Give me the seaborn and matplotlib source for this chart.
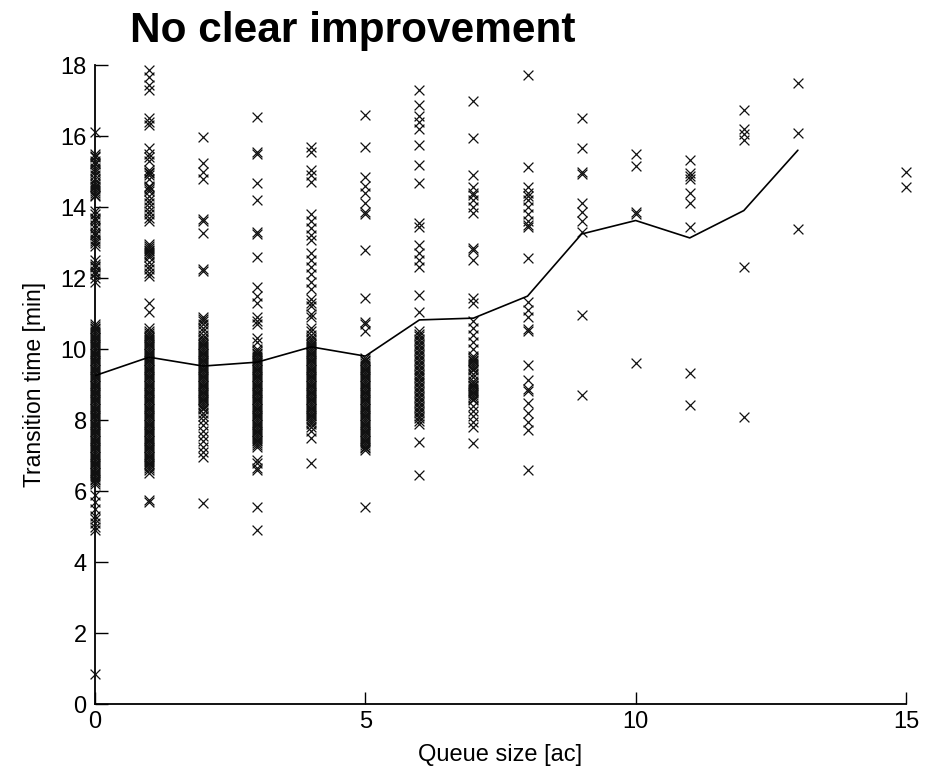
import matplotlib
matplotlib.use('Agg')
import matplotlib.pyplot as plt
import pandas as pd
import seaborn as sns

# transition times per queue size
times_q0 = [16.1, 15.5, 15.45, 15.4, 15.3, 15.25, 15.2, 15.1, 15.05, 15.0, 14.9, 14.8, 14.7, 14.65, 14.6,
            14.55, 14.5, 14.45, 14.4, 14.35, 14.3, 13.9, 13.8, 13.7, 13.65, 13.6, 13.5, 13.4, 13.3, 13.25,
            13.2, 13.1, 13.05, 13.0, 12.9, 12.5, 12.4, 12.35, 12.3, 12.2, 12.15, 12.1, 12.0, 11.9,
            10.7, 10.65, 10.6, 10.55, 10.5, 10.45, 10.4, 10.35, 10.3, 10.25, 10.2, 10.15, 10.1, 10.05, 10.0,
            9.95, 9.9, 9.85, 9.8, 9.75, 9.7, 9.65, 9.6, 9.55, 9.5, 9.45, 9.4, 9.35, 9.3, 9.25, 9.2, 9.15,
            9.1, 9.05, 9.0, 8.95, 8.9, 8.85, 8.8, 8.75, 8.7, 8.65, 8.6, 8.55, 8.5, 8.45, 8.4, 8.35, 8.3,
            8.25, 8.2, 8.15, 8.1, 8.05, 8.0, 7.95, 7.9, 7.85, 7.8, 7.75, 7.7, 7.65, 7.6, 7.55, 7.5, 7.45,
            7.4, 7.35, 7.3, 7.25, 7.2, 7.15, 7.1, 7.05, 7.0, 6.95, 6.9, 6.85, 6.8, 6.75, 6.7, 6.65, 6.6,
            6.55, 6.5, 6.45, 6.4, 6.35, 6.3, 6.25, 6.2,
            5.9, 5.7, 5.5, 5.3, 5.2, 5.1, 5.0, 4.9, 0.85]
times_q1 = [17.85, 17.65, 17.45, 17.3, 16.5, 16.4, 16.3, 15.65, 15.5, 15.4, 15.3, 15.05, 15.0, 14.95, 14.9,
            14.8, 14.6, 14.55, 14.5, 14.45, 14.3, 14.2, 14.1, 14.0, 13.9, 13.8, 13.7, 13.6, 12.95, 12.9,
            12.85, 12.8, 12.75, 12.7, 12.65, 12.6, 12.45, 12.35, 12.25, 12.15, 12.05, 11.3, 11.05,
            10.6, 10.5, 10.45, 10.4, 10.35, 10.3, 10.25, 10.2, 10.15, 10.1, 10.05, 10.0, 9.95, 9.9, 9.85,
            9.8, 9.75, 9.7, 9.65, 9.6, 9.55, 9.5, 9.45, 9.4, 9.35, 9.3, 9.25, 9.2, 9.15, 9.1, 9.05, 9.0,
            8.95, 8.9, 8.85, 8.8, 8.75, 8.7, 8.65, 8.6, 8.55, 8.5, 8.45, 8.4, 8.35, 8.3, 8.25, 8.2, 8.15,
            8.1, 8.05, 8.0, 7.95, 7.9, 7.85, 7.8, 7.75, 7.7, 7.65, 7.6, 7.55, 7.5, 7.45, 7.4, 7.35, 7.3,
            7.25, 7.2, 7.15, 7.1, 7.05, 7.0, 6.95, 6.9, 6.85, 6.8, 6.75, 6.7, 6.65, 6.6, 6.5, 5.75, 5.7]
times_q2 = [15.97, 15.24, 15.0, 14.8, 13.65, 13.6, 13.27, 12.25, 12.2, 10.9, 10.85, 10.8, 10.7, 10.6, 10.5,
            10.4, 10.3, 10.25, 10.2, 10.15, 10.1, 10.05, 10.0, 9.95, 9.9, 9.85, 9.8, 9.75, 9.7, 9.65, 9.6,
            9.55, 9.5, 9.45, 9.4, 9.35, 9.3, 9.25, 9.2, 9.15, 9.1, 9.05, 9.0, 8.95, 8.9, 8.85, 8.8, 8.75,
            8.7, 8.65, 8.6, 8.55, 8.5, 8.45, 8.4, 8.35, 8.3, 8.2, 8.1, 8.0, 7.85, 7.7, 7.55, 7.4, 7.25,
            7.1, 6.95, 5.66]
times_q3 = [16.54, 15.55, 15.5, 14.68, 14.2, 13.3, 13.25, 12.6, 11.75, 11.5, 11.3, 10.9, 10.8, 10.7, 10.3,
            10.2, 10.0, 9.95, 9.9, 9.85, 9.8, 9.75, 9.7, 9.65, 9.6, 9.55, 9.5, 9.45, 9.4, 9.35, 9.3, 9.25,
            9.2, 9.15, 9.1, 9.05, 9.0, 8.95, 8.9, 8.85, 8.8, 8.75, 8.7, 8.65, 8.6, 8.55, 8.5, 8.45, 8.4,
            8.35, 8.3, 8.25, 8.2, 8.15, 8.1, 8.05, 8.0, 7.95, 7.9, 7.85, 7.8, 7.75, 7.7, 7.65, 7.6, 7.55,
            7.5, 7.45, 7.4, 7.35, 7.3, 7.25, 6.87, 6.8, 6.65, 6.6, 5.55, 4.9]
times_q4 = [15.7, 15.55, 15.04, 14.9, 14.7, 13.8, 13.6, 13.4, 13.2, 13.07, 12.7, 12.5, 12.3, 12.1, 11.9, 11.7,
            11.4, 11.3, 11.2, 11.0, 10.9, 10.6, 10.5, 10.4, 10.3, 10.25, 10.2, 10.15, 10.1, 10.05, 10.0,
            9.95, 9.9, 9.85, 9.8, 9.75, 9.7, 9.65, 9.6, 9.55, 9.5, 9.45, 9.4, 9.35, 9.3, 9.25, 9.2, 9.15,
            9.1, 9.05, 9.0, 8.95, 8.9, 8.85, 8.8, 8.75, 8.7, 8.65, 8.6, 8.55, 8.5, 8.45, 8.4, 8.35, 8.3,
            8.25, 8.2, 8.15, 8.1, 8.05, 8.0, 7.95, 7.9, 7.8, 7.7, 7.5, 6.8]
times_q5 = [16.6, 15.7, 14.84, 14.6, 14.4, 14.1, 13.85, 13.8, 12.8, 11.43, 10.75, 10.7, 10.5, 9.75, 9.7,
            9.65, 9.6, 9.55, 9.5, 9.45, 9.4, 9.35, 9.3, 9.25, 9.2, 9.15, 9.1, 9.05, 9.0, 8.95, 8.9, 8.85,
            8.8, 8.75, 8.7, 8.65, 8.6, 8.55, 8.5, 8.45, 8.4, 8.35, 8.3, 8.25, 8.2, 8.15, 8.1, 8.05, 8.0,
            7.95, 7.9, 7.85, 7.8, 7.75, 7.7, 7.65, 7.6, 7.55, 7.5, 7.45, 7.4, 7.35, 7.3, 7.25, 7.2, 7.15, 5.55]
times_q6 = [17.3, 16.87, 16.55, 16.4, 16.2, 15.75, 15.18, 14.68, 13.55, 13.45, 12.93, 12.7, 12.5, 12.3,
            11.52, 11.04, 10.5, 10.43, 10.36, 10.29, 10.22, 10.15, 10.08, 10.01, 9.94, 9.87, 9.8, 9.73,
            9.66, 9.59, 9.52, 9.45, 9.38, 9.31, 9.24, 9.17, 9.1, 9.03, 8.96, 8.89, 8.82, 8.75, 8.68, 8.61,
            8.54, 8.47, 8.4, 8.33, 8.26, 8.19, 8.12, 8.05, 7.98, 7.9, 7.38, 6.45]
times_q7 = [17.0, 15.94, 14.9, 14.56, 14.4, 14.35, 14.2, 14.0, 13.83, 12.85, 12.8, 12.5, 11.43, 11.3, 10.8,
            10.6, 10.4, 10.2, 10.0, 9.8, 9.75, 9.7, 9.65, 9.6, 9.55, 9.5, 9.45, 9.4, 9.3, 9.2, 9.1, 9.05,
            9.0, 8.95, 8.9, 8.85, 8.8, 8.75, 8.7, 8.65, 8.6, 8.55, 8.4, 8.25, 8.1, 7.95, 7.8, 7.35]
times_q8 = [17.72, 15.13, 14.56, 14.4, 14.3, 14.2, 14.0, 13.8, 13.6, 13.5, 13.44, 12.56, 11.33, 11.1, 10.9,
            10.55, 10.5, 9.55, 9.13, 8.87, 8.83, 8.48, 8.2, 7.95, 7.72, 6.6]
times_q9 = [16.5, 15.66, 14.98, 14.94, 14.1, 13.85, 13.6, 13.3, 10.96, 8.7]
times_q10 = [15.5, 15.15, 13.85, 13.8, 9.6]
times_q11 = [15.32, 14.96, 14.88, 14.8, 14.4, 14.1, 13.44, 9.32, 8.42]
times_q12 = [16.73, 16.2, 16.05, 15.9, 12.3, 8.08]
times_q13 = [17.49, 16.08, 13.38]
times_q15 = [15.0, 14.56]

queue_sizes = [0, 1, 2, 3, 4, 5, 6, 7, 8, 9, 10, 11, 12, 13, 15]
all_times = [times_q0, times_q1, times_q2, times_q3, times_q4, times_q5, times_q6, times_q7,
             times_q8, times_q9, times_q10, times_q11, times_q12, times_q13, times_q15]

# mean transition time line
mean_queue = [0, 1, 2, 3, 4, 5, 6, 7, 8, 9, 10, 11, 12, 13]
mean_time = [9.25, 9.77, 9.52, 9.63, 10.06, 9.8, 10.82, 10.87, 11.49, 13.24, 13.62, 13.13, 13.9, 15.6]

rows = []
for q, ts in zip(queue_sizes, all_times):
    for t in ts:
        rows.append((q, t))
df = pd.DataFrame(rows, columns=['queue', 'time'])
df_mean = pd.DataFrame({'queue': mean_queue, 'time': mean_time})

sns.set_style('ticks')
plt.rcParams['font.family'] = ['Liberation Sans', 'DejaVu Sans']
plt.rcParams['text.color'] = 'black'
plt.rcParams['axes.labelcolor'] = 'black'

fig = plt.figure(figsize=(9.35, 7.74), dpi=100)
ax = fig.add_axes([0.1016, 0.0904, 0.8674, 0.8256])

sns.scatterplot(data=df, x='queue', y='time', ax=ax, marker='x', color='#111111',
                s=50, linewidth=0.9, legend=False, clip_on=False, zorder=3)
sns.lineplot(data=df_mean, x='queue', y='time', ax=ax, color='black', linewidth=1.2, zorder=4)

ax.set_xlim(0, 15)
ax.set_ylim(0, 18)
ax.set_xticks([0, 5, 10, 15])
ax.set_yticks([0, 2, 4, 6, 8, 10, 12, 14, 16, 18])
ax.tick_params(direction='in', length=9, width=1, labelsize=17, colors='black')
ax.tick_params(axis='x', pad=5)
ax.tick_params(axis='y', pad=6)
ax.spines['top'].set_visible(False)
ax.spines['right'].set_visible(False)
for sp in ['left', 'bottom']:
    ax.spines[sp].set_color('black')
    ax.spines[sp].set_linewidth(1.3)
ax.set_xlabel('Queue size [ac]', fontsize=17, labelpad=8)
ax.set_ylabel('Transition time [min]', fontsize=16.5, labelpad=10)

fig.text(0.139, 0.946, 'No clear improvement', fontsize=30.5, fontweight='bold', color='black',
         family=['Liberation Sans', 'DejaVu Sans'], ha='left', va='baseline')

plt.savefig('out.png', dpi=100)
